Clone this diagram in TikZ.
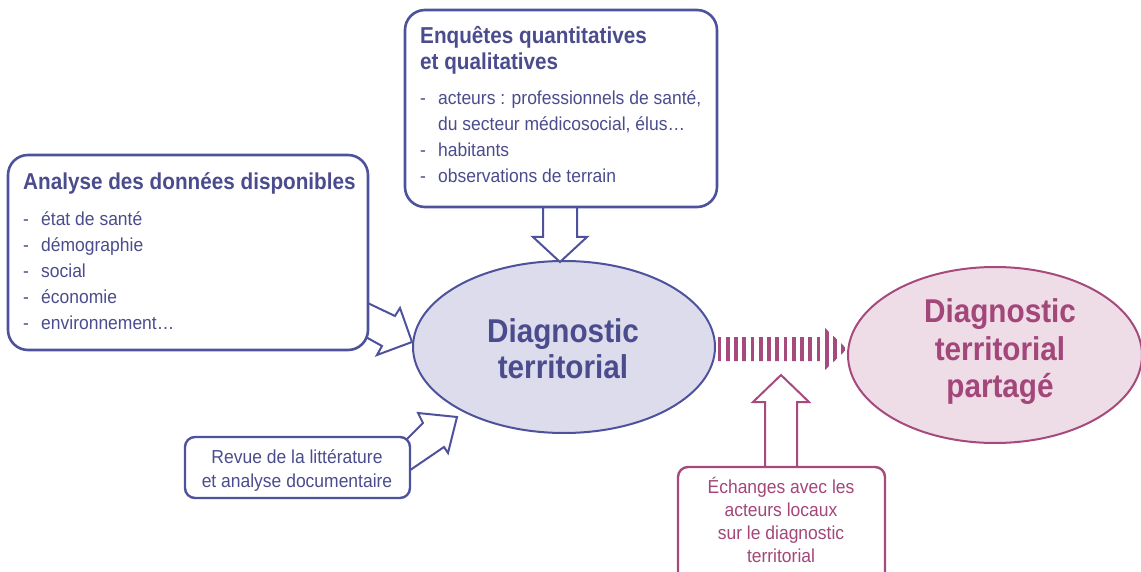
\documentclass[tikz,border=0pt]{standalone}
\usepackage{fontspec}
\setmainfont{Liberation Sans}
\newfontfamily\condfont{Liberation Sans}[FakeStretch=0.9]
\newfontfamily\regfont{Liberation Sans}[FakeStretch=0.93]
\usetikzlibrary{shapes.geometric}
\definecolor{blueline}{HTML}{4E519B}
\definecolor{bluetext}{HTML}{4B4C8E}
\definecolor{bluefill}{HTML}{DCDCEC}
\definecolor{magline}{HTML}{A64A7E}
\definecolor{magtext}{HTML}{A3467A}
\definecolor{magfill}{HTML}{EEDCE6}
\tikzset{
  bigbox/.style={draw=blueline, line width=2.6pt, fill=white, rounded corners=20pt, inner sep=0pt, outer sep=0pt},
  smallbox/.style={draw=#1, line width=2.4pt, fill=white, rounded corners=10pt, inner sep=0pt, outer sep=0pt},
  ell/.style={ellipse, draw=#1, line width=2pt, inner sep=0pt, outer sep=0pt},
  fatarrow/.style={draw=#1, fill=white, line width=2pt, line join=miter},
  ttl/.style={anchor=base west, inner sep=0pt, text=bluetext, font=\condfont\bfseries\fontsize{23}{27}\selectfont},
  itm/.style={anchor=base west, inner sep=0pt, text=#1, font=\regfont\fontsize{18.8}{22}\selectfont},
  ctr/.style={anchor=base, inner sep=0pt, text=#1, font=\regfont\fontsize{18.8}{22}\selectfont},
  bigtxt/.style={anchor=base, inner sep=0pt, text=#1, font=\condfont\bfseries\fontsize{33}{37}\selectfont},
}
\newcommand{\dsh}{\makebox[18pt][l]{-}}
\begin{document}
\begin{tikzpicture}[x=1pt,y=-1pt]
\useasboundingbox (0,0) rectangle (1141,572);
% ellipses
\node[ell=blueline, fill=bluefill, minimum width=302pt, minimum height=172pt] (diag) at (564,347) {};
\node[ell=magline, fill=magfill, minimum width=294pt, minimum height=176pt] (part) at (995,355) {};
% fat arrows
\draw[fatarrow=blueline] (543,200) -- (543,237) -- (533,237) -- (560,262) -- (587,237) -- (577,237) -- (577,200) -- cycle;
\draw[fatarrow=blueline] (355,297) -- (395,316) -- (400,308) -- (412,342) -- (377,355) -- (382,346) -- (355,331) -- cycle;
\draw[fatarrow=blueline] (400,446) -- (423,423) -- (418,413) -- (457,417) -- (448,453) -- (444,447) -- (400,477) -- cycle;
\draw[fatarrow=magline] (765,480) -- (765,402) -- (753,402) -- (781,375) -- (809,402) -- (797,402) -- (797,480) -- cycle;
% striped arrow
\begin{scope}
\clip (718,337) -- (822,337) -- (822,325) -- (847,349) -- (822,373) -- (822,361) -- (718,361) -- cycle;
\foreach \i in {0,...,16} \fill[magline] (717.5+\i*8.25,320) rectangle ++(3.9,60);
\end{scope}
% boxes
\node[bigbox, minimum width=360pt, minimum height=195pt] (ana) at (188,252.5) {};
\node[bigbox, minimum width=312pt, minimum height=197pt] (enq) at (561,108.5) {};
\node[smallbox=blueline, minimum width=225pt, minimum height=61pt] (rev) at (297.5,467.5) {};
\node[smallbox=magline, minimum width=207pt, minimum height=120pt] (ech) at (781.5,527) {};
% texts left box
\node[ttl] (anat) at (23,190) {Analyse des données disponibles};
\node[itm=bluetext] (a1) at (23,226) {\dsh état de santé};
\node[itm=bluetext] (a2) at (23,252) {\dsh démographie};
\node[itm=bluetext] (a3) at (23,278) {\dsh social};
\node[itm=bluetext] (a4) at (23,303) {\dsh économie};
\node[itm=bluetext] (a5) at (23,329) {\dsh environnement…};
% texts top box
\node[ttl] (enqt1) at (420,44) {Enquêtes quantitatives};
\node[ttl] (enqt2) at (420,70) {et qualitatives};
\node[itm=bluetext] (e1) at (420,105) {\dsh acteurs : professionnels de santé,};
\node[itm=bluetext] (e2) at (420,131) {\hspace*{18pt}du secteur médicosocial, élus…};
\node[itm=bluetext] (e3) at (420,157) {\dsh habitants};
\node[itm=bluetext] (e4) at (420,183) {\dsh observations de terrain};
% revue
\node[ctr=bluetext] (r1) at (297,463) {Revue de la littérature};
\node[ctr=bluetext] (r2) at (297,487) {et analyse documentaire};
% echanges
\node[ctr=magtext] (c1) at (781,493) {Échanges avec les};
\node[ctr=magtext] (c2) at (781,516) {acteurs locaux};
\node[ctr=magtext] (c3) at (781,539) {sur le diagnostic};
\node[ctr=magtext] (c4) at (781,562) {territorial};
% ellipse texts
\node[bigtxt=bluetext] (d1) at (563,342) {Diagnostic};
\node[bigtxt=bluetext] (d2) at (563,378) {territorial};
\node[bigtxt=magtext] (p1) at (1000,323) {Diagnostic};
\node[bigtxt=magtext] (p2) at (1000,360) {territorial};
\node[bigtxt=magtext] (p3) at (1000,397) {partagé};
\end{tikzpicture}
\end{document}
